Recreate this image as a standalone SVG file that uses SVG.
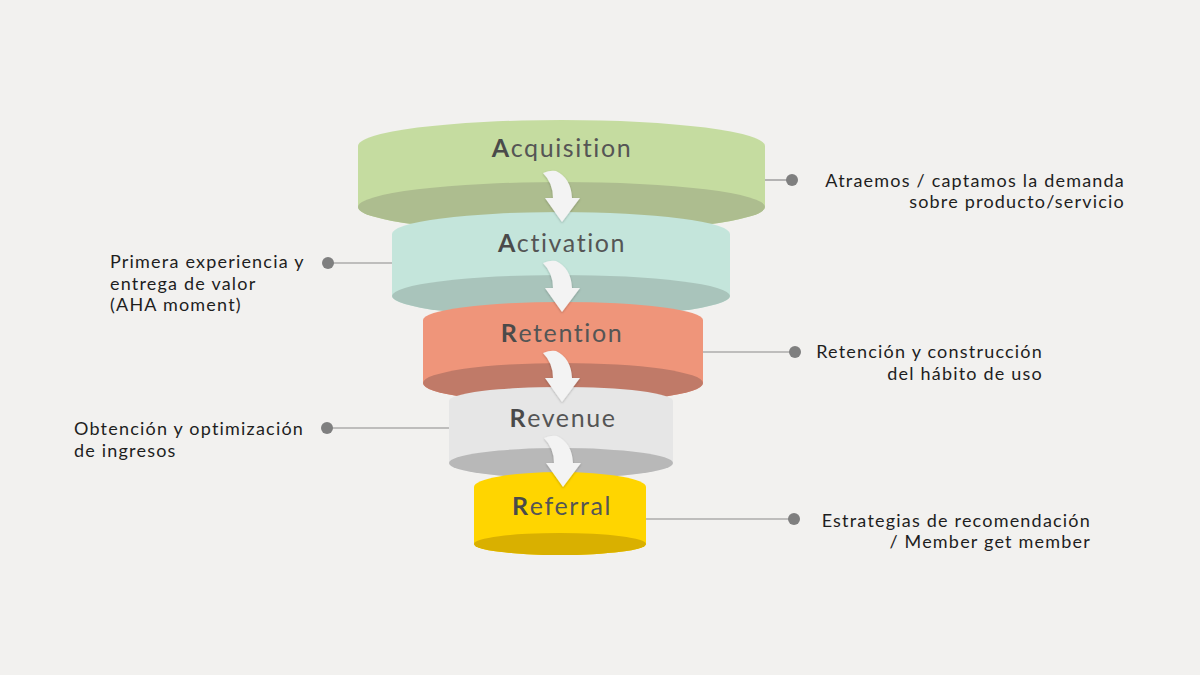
<svg xmlns="http://www.w3.org/2000/svg" xmlns:xlink="http://www.w3.org/1999/xlink" width="1200" height="675" viewBox="0 0 1200 675">
<style>
.title{font-family:Lato,"Open Sans","Liberation Sans",sans-serif;font-size:25px;letter-spacing:1.6px;fill:#555555;text-anchor:middle}
.title tspan.b{font-weight:bold;fill:#4a4a4a}
.desc{font-family:Lato,"Open Sans","Liberation Sans",sans-serif;font-size:18px;letter-spacing:1.2px;fill:#1e1e1e}
.r{text-anchor:end}
.lead{stroke:#8a8a8a;stroke-width:1.2;fill:none}
.dot{fill:#7f7f7f}
.arrow{fill:#f3f3f3;filter:url(#sh)}
</style>
<defs>
<filter id="sh" x="-50%" y="-50%" width="200%" height="200%">
<feDropShadow dx="0" dy="1" stdDeviation="1.2" flood-color="#000" flood-opacity="0.25"/>
</filter>
<path id="arr" d="M-19,-49 Q-12,-52 -6,-51 Q9,-44 10,-24 L18,-24 L0,0 L-17,-24 L-9,-24 Q-9,-39 -19,-49 Z"/>
</defs>
<rect width="1200" height="675" fill="#f2f1ef"/>

<g id="acquisition">
<path d="M358,146 A203.5,26 0 0 1 765,146 L765,207 A203.5,25 0 0 1 358,207 Z" fill="#c5dca0"/>
<ellipse cx="561.5" cy="207" rx="203.5" ry="25" fill="#adbd8f"/>
<text class="title" x="562" y="157"><tspan class="b">A</tspan>cquisition</text>
</g>
<g id="activation">
<path d="M392,234 A169,22 0 0 1 730,234 L730,296 A169,21 0 0 1 392,296 Z" fill="#c4e5db"/>
<ellipse cx="561" cy="296" rx="169" ry="21" fill="#a9c4bb"/>
<text class="title" x="562" y="252"><tspan class="b">A</tspan>ctivation</text>
</g>
<g id="retention">
<path d="M423,320 A140,18 0 0 1 703,320 L703,383 A140,20 0 0 1 423,383 Z" fill="#ef957a"/>
<ellipse cx="563" cy="383" rx="140" ry="20" fill="#c07a68"/>
<text class="title" x="562" y="342"><tspan class="b">R</tspan>etention</text>
</g>
<g id="revenue">
<path d="M449,401 A112,14 0 0 1 673,401 L673,463 A112,15 0 0 1 449,463 Z" fill="#e6e6e6"/>
<ellipse cx="561" cy="463" rx="112" ry="15" fill="#b8b8b8"/>
<text class="title" x="563" y="427"><tspan class="b">R</tspan>evenue</text>
</g>
<g id="referral">
<path d="M474,487 A86,15 0 0 1 646,487 L646,544 A86,11 0 0 1 474,544 Z" fill="#ffd500"/>
<ellipse cx="560" cy="544" rx="86" ry="11" fill="#d9b000"/>
<text class="title" x="562" y="515"><tspan class="b">R</tspan>eferral</text>
</g>

<g id="connectors">
<use xlink:href="#arr" class="arrow" transform="translate(562,222)"/>
<use xlink:href="#arr" class="arrow" transform="translate(562,312)"/>
<use xlink:href="#arr" class="arrow" transform="translate(562,402)"/>
<use xlink:href="#arr" class="arrow" transform="translate(563,487)"/>
<line class="lead" x1="765" y1="180" x2="792" y2="180"/>
<circle class="dot" cx="792" cy="180" r="6"/>
<line class="lead" x1="328" y1="263" x2="392" y2="263"/>
<circle class="dot" cx="328" cy="263" r="6"/>
<line class="lead" x1="703" y1="352" x2="795" y2="352"/>
<circle class="dot" cx="795" cy="352" r="6"/>
<line class="lead" x1="327" y1="428" x2="449" y2="428"/>
<circle class="dot" cx="327" cy="428" r="6"/>
<line class="lead" x1="646" y1="519" x2="794" y2="519"/>
<circle class="dot" cx="794" cy="519" r="6"/>
</g>

<g id="desc-acquisition">
<text class="desc r" x="1125" y="187">Atraemos / captamos la demanda</text>
<text class="desc r" x="1125" y="208">sobre producto/servicio</text>
</g>
<g id="desc-activation">
<text class="desc" x="110" y="268">Primera experiencia y</text>
<text class="desc" x="110" y="290">entrega de valor</text>
<text class="desc" x="110" y="311">(AHA moment)</text>
</g>
<g id="desc-retention">
<text class="desc r" x="1043" y="358">Retención y construcción</text>
<text class="desc r" x="1043" y="380">del hábito de uso</text>
</g>
<g id="desc-revenue">
<text class="desc" x="74" y="435">Obtención y optimización</text>
<text class="desc" x="74" y="457">de ingresos</text>
</g>
<g id="desc-referral">
<text class="desc r" x="1091" y="527">Estrategias de recomendación</text>
<text class="desc r" x="1091" y="548">/ Member get member</text>
</g>
</svg>
